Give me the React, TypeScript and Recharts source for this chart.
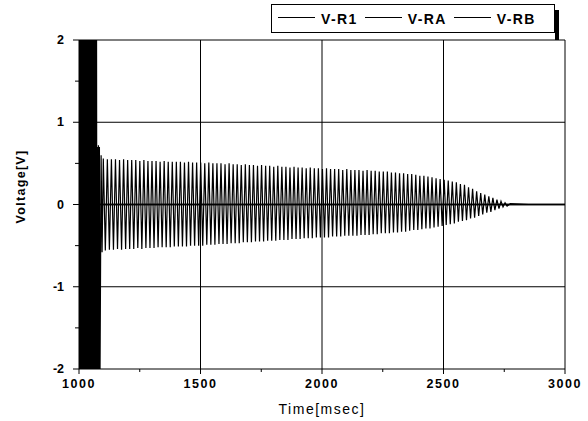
import { LineChart, Line, XAxis, YAxis, ReferenceLine, Legend } from 'recharts';

// one cycle of the recorded signal (60 Hz), msec
const PERIOD = 16.7;

const xTicks = [1000, 1250, 1500, 1750, 2000, 2250, 2500, 2750, 3000];
const xLabels = [1000, 1500, 2000, 2500, 3000];
const yTicks = [-2, -1.5, -1, -0.5, 0, 0.5, 1, 1.5, 2];
const yLabels = [-2, -1, 0, 1, 2];
const gridX = [1500, 2000, 2500, 3000];
const gridY = [2, 1, 0, -1];

const seriesNames = ['V-R1', 'V-RA', 'V-RB'];

// start-up burst, runs off the +/-2 V scale (one value every 2 ms from 1000)
const burstValues = [
  2.8, -2.9, 2.6, -2.7, 3.0, -2.8, 2.7, -3.0, 2.9, -2.6, 2.8, -2.9, 2.5, -2.8,
  3.0, -2.7, 2.6, -2.9, 2.8, -3.0, 2.7, -2.8, 2.9, -2.6, 2.6, -2.8, 2.7, -2.9,
  2.9, -2.7, 2.8, -2.6, 3.0, -2.9, 2.7, -2.8, 2.6, -3.0,
];
// top falls back to ~0.7 V while the bottom still swings off scale
const transientTimes = [1076, 1078, 1080, 1082, 1084, 1086, 1091, 1095];
const transientValues = [0.7, -2.6, 0.72, -2.5, 0.7, -2.4, 0.6, -0.58];

// peaks of each cycle from 1100 msec on
const upperPeaks = [
  0.56, 0.55, 0.55, 0.55, 0.54, 0.55, 0.54, 0.54, 0.54, 0.53,
  0.54, 0.53, 0.53, 0.53, 0.52, 0.53, 0.52, 0.52, 0.52, 0.52,
  0.51, 0.52, 0.51, 0.51, 0.51, 0.5, 0.51, 0.5, 0.5, 0.5,
  0.49, 0.5, 0.49, 0.49, 0.48, 0.49, 0.48, 0.48, 0.47, 0.48,
  0.47, 0.47, 0.46, 0.47, 0.46, 0.46, 0.45, 0.46, 0.45, 0.45,
  0.44, 0.45, 0.44, 0.44, 0.43, 0.44, 0.43, 0.43, 0.43, 0.42,
  0.43, 0.42, 0.42, 0.42, 0.41, 0.42, 0.41, 0.41, 0.4, 0.4,
  0.4, 0.39, 0.39, 0.38, 0.38, 0.37, 0.37, 0.36, 0.35, 0.35,
  0.34, 0.33, 0.32, 0.31, 0.3, 0.29, 0.28, 0.27, 0.25, 0.24,
  0.21, 0.19, 0.16, 0.14, 0.12, 0.1, 0.08, 0.06, 0.04, 0.02,
];
const lowerPeaks = [
  -0.56, -0.55, -0.55, -0.54, -0.55, -0.54, -0.54, -0.54, -0.53, -0.54,
  -0.53, -0.53, -0.53, -0.52, -0.52, -0.52, -0.52, -0.51, -0.51, -0.51,
  -0.51, -0.5, -0.5, -0.5, -0.5, -0.49, -0.49, -0.49, -0.48, -0.48,
  -0.48, -0.47, -0.47, -0.47, -0.46, -0.46, -0.46, -0.45, -0.45, -0.45,
  -0.44, -0.44, -0.44, -0.43, -0.43, -0.43, -0.42, -0.42, -0.42, -0.41,
  -0.41, -0.41, -0.4, -0.4, -0.4, -0.4, -0.39, -0.39, -0.39, -0.38,
  -0.38, -0.38, -0.38, -0.37, -0.37, -0.37, -0.36, -0.36, -0.35, -0.35,
  -0.35, -0.34, -0.34, -0.33, -0.33, -0.32, -0.31, -0.31, -0.3, -0.29,
  -0.29, -0.28, -0.27, -0.26, -0.25, -0.24, -0.23, -0.21, -0.2, -0.19,
  -0.17, -0.16, -0.14, -0.12, -0.1, -0.09, -0.07, -0.05, -0.03, -0.02,
];
const tailTimes = [2775, 2850, 3000];
const tailValues = [0.01, 0, 0];

// V-RA / V-RB stay on the zero line
const flatTimes = [1000, 3000];
const vraValues = [0, 0];
const vrbValues = [0, 0];

const vr1: { t: number; v: number }[] = [];
burstValues.forEach((v, i) => vr1.push({ t: 1000 + i * 2, v }));
transientTimes.forEach((t, i) => vr1.push({ t, v: transientValues[i] }));
upperPeaks.forEach((v, i) => {
  const t = 1100 + i * PERIOD;
  vr1.push({ t, v });
  vr1.push({ t: t + PERIOD / 2, v: lowerPeaks[i] });
});
tailTimes.forEach((t, i) => vr1.push({ t, v: tailValues[i] }));

const vra = flatTimes.map((t, i) => ({ t, v: vraValues[i] }));
const vrb = flatTimes.map((t, i) => ({ t, v: vrbValues[i] }));

const FONT = '"Liberation Sans", Arial, sans-serif';

const XTick = ({ x, y, payload }: any) => {
  const major = xLabels.includes(payload.value);
  return (
    <g>
      <line x1={x} x2={x} y1={y} y2={y + (major ? 5 : 3)} stroke="#000" />
      {major && (
        <text x={x} y={y + 19} textAnchor="middle" fontFamily={FONT} fontWeight="bold" fontSize={12.5} letterSpacing={1.5} fill="#000">
          {payload.value}
        </text>
      )}
    </g>
  );
};

const YTick = ({ x, y, payload }: any) => {
  const major = yLabels.includes(payload.value);
  return (
    <g>
      <line x1={x - (major ? 6 : 4)} x2={x} y1={y} y2={y} stroke="#000" />
      {major && (
        <text x={x - 15} y={y + 4} textAnchor="end" fontFamily={FONT} fontWeight="bold" fontSize={12.5} fill="#000">
          {payload.value}
        </text>
      )}
    </g>
  );
};

const XTitle = ({ viewBox }: any) => (
  <text x={viewBox.x + viewBox.width / 2} y={414} textAnchor="middle" fontFamily={FONT} fontSize={14} letterSpacing={1.5} fill="#000">
    Time[msec]
  </text>
);

const YTitle = ({ viewBox }: any) => {
  const cx = 25;
  const cy = viewBox.y + viewBox.height / 2 - 18;
  return (
    <text x={cx} y={cy} transform={`rotate(-90 ${cx} ${cy})`} textAnchor="middle" fontFamily={FONT} fontWeight="bold" fontSize={12.5} letterSpacing={1.3} fill="#000">
      Voltage[V]
    </text>
  );
};

const LegendBox = () => (
  <div style={{ position: 'relative', width: 284, height: 29, boxSizing: 'border-box', border: '1px solid #000', background: '#fff', display: 'flex', alignItems: 'center', paddingLeft: 6, fontFamily: FONT, fontWeight: 'bold', fontSize: 14, letterSpacing: 1.4 }}>
    {seriesNames.map((name) => (
      <div key={name} style={{ display: 'flex', alignItems: 'center', marginRight: 7 }}>
        <div style={{ width: 37, height: 1, background: '#000', marginRight: 6, marginTop: -3 }} />
        <span>{name}</span>
      </div>
    ))}
    <div style={{ position: 'absolute', right: -5, top: 5, width: 4, height: 30, background: '#000' }} />
  </div>
);

export default function App() {
  return (
    <div style={{ position: 'absolute', left: 0, top: 0, background: '#fff' }}>
      <LineChart width={588} height={421} margin={{ top: 40, right: 23, bottom: 0, left: 0 }}>
        <XAxis
          type="number"
          dataKey="t"
          domain={[1000, 3000]}
          ticks={xTicks}
          allowDataOverflow
          height={52}
          tickSize={0}
          tickMargin={0}
          tickLine={false}
          tick={<XTick />}
          axisLine={{ stroke: '#000' }}
          label={<XTitle />}
        />
        <YAxis
          type="number"
          dataKey="v"
          domain={[-2, 2]}
          ticks={yTicks}
          allowDataOverflow
          width={79}
          tickSize={0}
          tickMargin={0}
          tickLine={false}
          tick={<YTick />}
          axisLine={{ stroke: '#000' }}
          label={<YTitle />}
        />
        {gridX.map((x) => (
          <ReferenceLine key={`gx${x}`} x={x} stroke="#000" strokeWidth={1} />
        ))}
        {gridY.map((y) => (
          <ReferenceLine key={`gy${y}`} y={y} stroke="#000" strokeWidth={1} />
        ))}
        <Legend
          verticalAlign="middle"
          align="center"
          layout="horizontal"
          content={<LegendBox />}
          wrapperStyle={{ left: 271, top: 4, width: 290, height: 34 }}
        />
        <Line data={vra} dataKey="v" name="V-RA" stroke="#000" strokeWidth={1.5} dot={false} isAnimationActive={false} />
        <Line data={vrb} dataKey="v" name="V-RB" stroke="#000" strokeWidth={1.5} dot={false} isAnimationActive={false} />
        <Line data={vr1} dataKey="v" name="V-R1" type="linear" stroke="#000" strokeWidth={1.2} dot={false} isAnimationActive={false} />
      </LineChart>
    </div>
  );
}
